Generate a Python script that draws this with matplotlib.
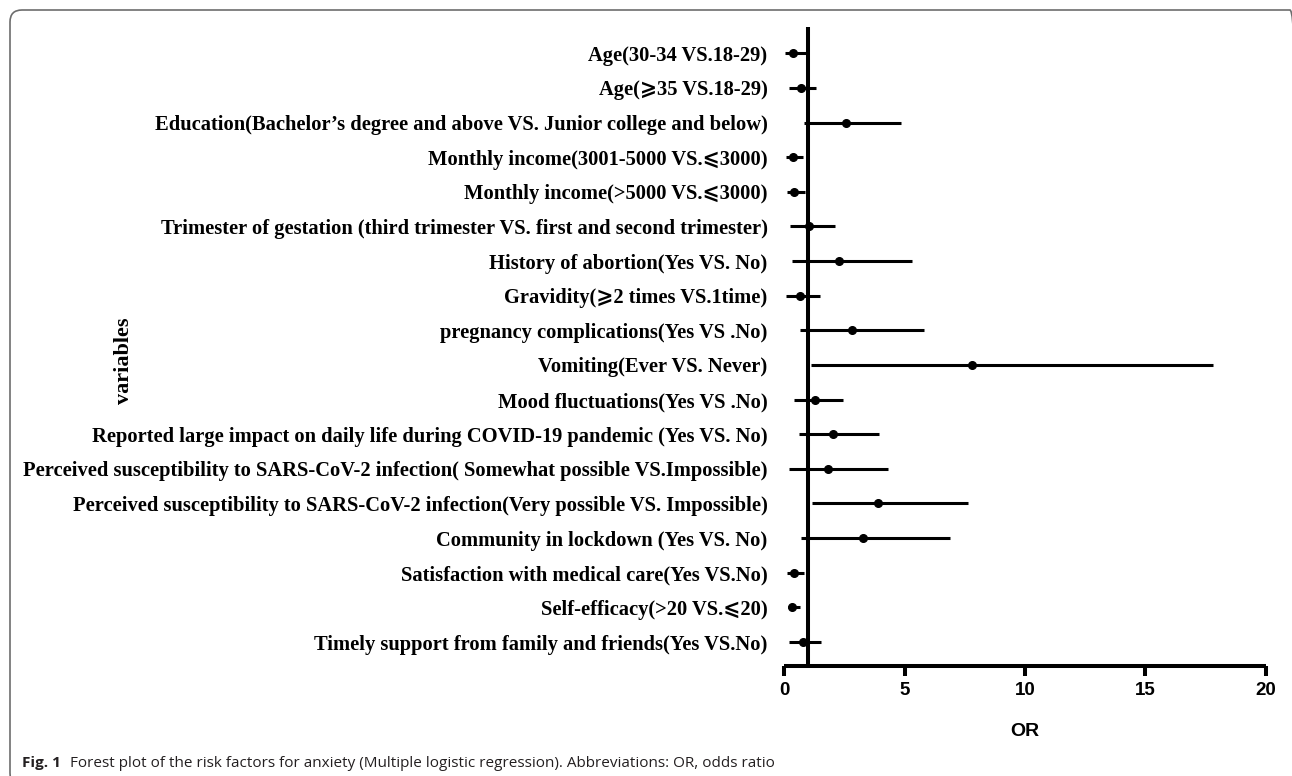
import matplotlib
matplotlib.use("Agg")
import matplotlib.pyplot as plt
from matplotlib.patches import FancyBboxPatch

# forest plot data, top row first
variables = [
    "Age(30-34 VS.18-29)",
    "Age(\u2a7e35 VS.18-29)",
    "Education(Bachelor\u2019s degree and above VS. Junior college and below)",
    "Monthly income(3001-5000 VS.\u2a7d3000)",
    "Monthly income(>5000 VS.\u2a7d3000)",
    "Trimester of gestation (third trimester VS. first and second trimester)",
    "History of abortion(Yes VS. No)",
    "Gravidity(\u2a7e2 times VS.1time)",
    "pregnancy complications(Yes VS .No)",
    "Vomiting(Ever VS. Never)",
    "Mood fluctuations(Yes VS .No)",
    "Reported large impact on daily life during COVID-19 pandemic (Yes VS. No)",
    "Perceived susceptibility to SARS-CoV-2 infection( Somewhat possible VS.Impossible)",
    "Perceived susceptibility to SARS-CoV-2 infection(Very possible VS. Impossible)",
    "Community in lockdown (Yes VS. No)",
    "Satisfaction with medical care(Yes VS.No)",
    "Self-efficacy(>20 VS.\u2a7d20)",
    "Timely support from family and friends(Yes VS.No)",
]
odds = [0.37, 0.68, 2.55, 0.37, 0.40, 1.01, 2.29, 0.64, 2.81, 7.80,
        1.28, 2.02, 1.83, 3.91, 3.28, 0.42, 0.33, 0.76]
ci_low = [0.05, 0.21, 0.83, 0.07, 0.10, 0.24, 0.32, 0.07, 0.65, 1.11,
          0.40, 0.61, 0.21, 1.16, 0.69, 0.12, 0.14, 0.21]
ci_high = [0.93, 1.30, 4.84, 0.76, 0.85, 2.09, 5.31, 1.48, 5.80, 17.82,
           2.43, 3.92, 4.31, 7.63, 6.88, 0.82, 0.65, 1.52]
xticks = [0, 5, 10, 15, 20]

serif = ["Liberation Serif", "DejaVu Serif", "DejaVu Sans"]
sans = ["Liberation Sans", "DejaVu Sans"]

fig = plt.figure(figsize=(12.92, 7.76), dpi=100)
ax = fig.add_axes([0.607, 0.1421, 0.3727, 0.8231])

n = len(variables)
ypos = list(range(n, 0, -1))
for y, o, lo, hi in zip(ypos, odds, ci_low, ci_high):
    ax.plot([lo, hi], [y, y], color="black", lw=2.2, solid_capstyle="butt")
    ax.plot(o, y, "o", color="black", ms=5.5)

ax.axvline(1, color="black", lw=2.9)

ax.set_xlim(0, 20)
ax.set_ylim(0.315, n + 0.76)
ax.set_xticks(xticks)
ax.set_xticklabels([str(t) for t in xticks], fontfamily=sans, fontweight="bold", fontsize=13.5)
ax.set_yticks(ypos)
ax.set_yticklabels(variables, fontfamily=serif, fontweight="bold", fontsize=14.8)
ax.tick_params(axis="y", length=0, pad=12)
ax.tick_params(axis="x", length=7, width=2.9, direction="out", pad=5)

for s in ["top", "right", "left"]:
    ax.spines[s].set_visible(False)
ax.spines["bottom"].set_linewidth(2.9)
ax.spines["bottom"].set_capstyle("butt")

ax.set_xlabel("OR", fontfamily=sans, fontweight="bold", fontsize=14, labelpad=17)
fig.text(0.096, 0.535, "variables", rotation=90, ha="center", va="center",
         fontfamily=serif, fontweight="bold", fontsize=16)

# rounded frame around the figure (right and bottom edges run off the image)
frame = FancyBboxPatch((0.10, -0.09), 12.92, 7.75,
                       boxstyle="round,pad=0,rounding_size=0.12",
                       transform=fig.dpi_scale_trans, fill=False,
                       edgecolor="#6d6d6d", lw=1.2)
fig.add_artist(frame)

# caption
cap1 = fig.text(0.017, 0.011, "Fig. 1", fontfamily=["Open Sans", "DejaVu Sans"],
                fontweight="bold", fontsize=11, color="#231f20", va="baseline")
fig.canvas.draw()
bb = cap1.get_window_extent()
fig.text((bb.x1 + 9) / fig.bbox.width, 0.011,
         "Forest plot of the risk factors for anxiety (Multiple logistic regression). "
         "Abbreviations: OR, odds ratio",
         fontfamily=["Open Sans", "DejaVu Sans"], fontsize=11, color="#231f20",
         va="baseline")

fig.savefig("out.png", dpi=100)
